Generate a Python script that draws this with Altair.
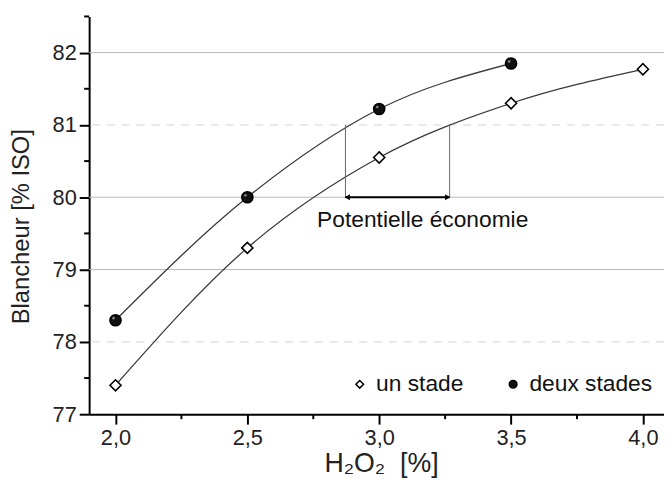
import altair as alt
import pandas as pd

# ---- data ----
x_un = [2.0, 2.5, 3.0, 3.5, 4.0]
y_un = [77.40, 79.30, 80.55, 81.30, 81.77]
x_deux = [2.0, 2.5, 3.0, 3.5]
y_deux = [78.30, 80.00, 81.22, 81.85]
series = ["un stade", "deux stades"]

grid_solid = [79, 80, 82]
grid_dashed = [78, 81]
x_major = [2.0, 2.5, 3.0, 3.5, 4.0]
x_minor = [2.25, 2.75, 3.25, 3.75]
y_major = [77, 78, 79, 80, 81, 82]
y_minor = [77.5, 78.5, 79.5, 80.5, 81.5, 82.5]

econ_x = [2.872, 3.267]
econ_y = [80.0, 81.0]
econ_label = "Potentielle économie"
econ_label_pos = [3.165, 79.68]

FONT = "Liberation Sans, Arial, sans-serif"
W, H = 581, 402
XDOM = [1.9, 4.08]
YDOM = [77, 82.5]

pts = pd.DataFrame(
    {"x": x_un + x_deux,
     "y": y_un + y_deux,
     "s": [series[0]] * len(x_un) + [series[1]] * len(x_deux)}
)

xs = alt.Scale(domain=XDOM, nice=False, zero=False)
ys = alt.Scale(domain=YDOM, nice=False, zero=False)

X = alt.X("x:Q", scale=xs,
          axis=alt.Axis(values=x_major, labelExpr="replace(format(datum.value, '.1f'), '.', ',')",
                        title="H₂O₂\u00a0\u00a0[%]", titleX=295, titleY=50, titleBaseline="middle",
                        titleAlign="center", titleFontSize=27))
Y = alt.Y("y:Q", scale=ys,
          axis=alt.Axis(values=y_major, format="d",
                        title="Blancheur [% ISO]", titleX=-68, titleY=212, titleAngle=-90,
                        titleBaseline="middle", titleAlign="center"))

grid1 = alt.Chart(pd.DataFrame({"y": grid_solid})).mark_rule(color="#b8b8b8", strokeWidth=1).encode(
    y=alt.Y("y:Q", scale=ys))
grid2 = alt.Chart(pd.DataFrame({"y": grid_dashed})).mark_rule(
    color="#d2d2d2", strokeWidth=1, strokeDash=[8, 7]).encode(y=alt.Y("y:Q", scale=ys))

yminor = alt.Chart(pd.DataFrame({"y": y_minor})).mark_rule(color="black", strokeWidth=2).encode(
    y=alt.Y("y:Q", scale=ys), x=alt.value(-5), x2=alt.value(0))
xminor = alt.Chart(pd.DataFrame({"x": x_minor})).mark_rule(color="black", strokeWidth=2).encode(
    x=alt.X("x:Q", scale=xs), y=alt.value(H), y2=alt.value(H + 5))

lines = alt.Chart(pts).mark_line(interpolate="monotone", color="#3a3a3a", strokeWidth=1.3).encode(
    x=X, y=Y, detail="s:N")

leg = dict(title=None, orient="none", legendX=262, legendY=360,
           direction="horizontal", columns=2, columnPadding=38,
           labelFontSize=23, labelFont=FONT, labelColor="#111111",
           symbolSize=60, symbolStrokeWidth=1.5,
           labelOffset=5, padding=0)

markers = alt.Chart(pts).mark_point(size=125, strokeWidth=1.6, opacity=1).encode(
    x=alt.X("x:Q", scale=xs), y=alt.Y("y:Q", scale=ys),
    shape=alt.Shape("s:N", scale=alt.Scale(domain=series, range=["diamond", "circle"]),
                    legend=alt.Legend(**leg)),
    fill=alt.Fill("s:N", scale=alt.Scale(domain=series, range=["white", "#111111"]),
                  legend=alt.Legend(**leg)),
    stroke=alt.Stroke("s:N", scale=alt.Scale(domain=series, range=["black", "black"]),
                      legend=alt.Legend(**leg)),
)

highlight = alt.Chart(pd.DataFrame({"x": x_deux, "y": y_deux})).mark_point(
    filled=True, color="#8a8a8a", size=8, xOffset=-2, yOffset=-2, opacity=0.9).encode(
    x=alt.X("x:Q", scale=xs), y=alt.Y("y:Q", scale=ys))

ed = pd.DataFrame({"x": econ_x})
vlines = alt.Chart(ed).mark_rule(color="#666666", strokeWidth=1).encode(
    x=alt.X("x:Q", scale=xs), y=alt.datum(econ_y[0], scale=ys), y2=alt.datum(econ_y[1]))
arrow = alt.Chart(pd.DataFrame({"x": [econ_x[0]], "x2": [econ_x[1]], "y": [econ_y[0]]})).mark_rule(
    color="black", strokeWidth=2).encode(x=alt.X("x:Q", scale=xs), x2="x2:Q", y=alt.Y("y:Q", scale=ys))
head_l = alt.Chart(pd.DataFrame({"x": [econ_x[0]], "y": [econ_y[0]]})).mark_point(
    filled=True, color="black", size=35, opacity=1, shape="triangle-left", xOffset=2).encode(
    x=alt.X("x:Q", scale=xs), y=alt.Y("y:Q", scale=ys))
head_r = alt.Chart(pd.DataFrame({"x": [econ_x[1]], "y": [econ_y[0]]})).mark_point(
    filled=True, color="black", size=35, opacity=1, shape="triangle-right", xOffset=-2).encode(
    x=alt.X("x:Q", scale=xs), y=alt.Y("y:Q", scale=ys))
label = alt.Chart(pd.DataFrame({"x": [econ_label_pos[0]], "y": [econ_label_pos[1]], "t": [econ_label]})).mark_text(
    font=FONT, fontSize=23, color="#111111", align="center", baseline="middle").encode(
    x=alt.X("x:Q", scale=xs), y=alt.Y("y:Q", scale=ys), text="t:N")

chart = alt.layer(grid1, grid2, lines, yminor, xminor, vlines, arrow, head_l, head_r, label,
                  markers, highlight).properties(
    width=W, height=H,
    autosize=alt.AutoSizeParams(type="none"),
    padding={"left": 82, "top": 6, "right": 0, "bottom": 70},
).configure_view(stroke=None).configure_axis(
    domainColor="black", domainWidth=2, tickColor="black", tickWidth=2, tickSize=10,
    labelFont=FONT, labelFontSize=22, labelColor="#222222", labelPadding=4,
    titleFont=FONT, titleFontSize=24, titleFontWeight="normal", titleColor="#222222",
    grid=False,
).configure_axisY(labelPadding=3)

chart.save("out.html", embed_options={"renderer": "svg", "actions": False})
